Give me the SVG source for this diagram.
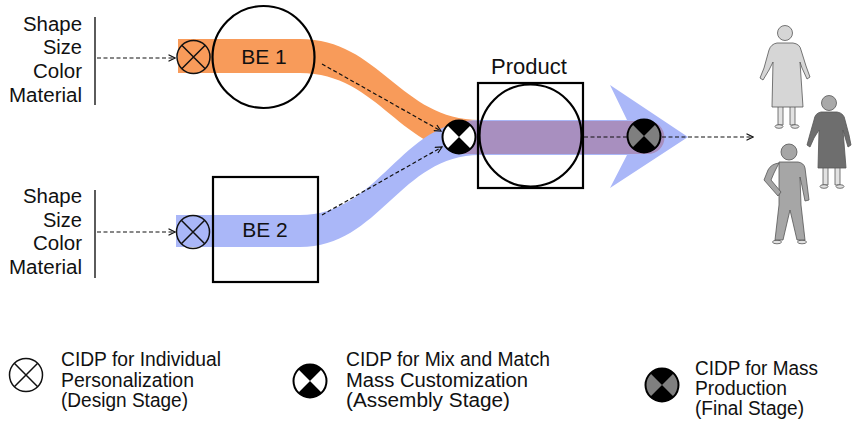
<svg xmlns="http://www.w3.org/2000/svg" width="853" height="424" viewBox="0 0 853 424">
  <style>
    .lbl { font-family: "Liberation Sans", Arial, sans-serif; fill: #111; }
    .attr { font-size: 20px; text-anchor: end; }
    .leg { font-size: 19.5px; }
    .name { font-size: 21px; text-anchor: middle; }
    .edge { stroke: #000; stroke-width: 2.2; fill: none; }
    .dash { stroke: #111; stroke-width: 1.2; stroke-dasharray: 4 2.5; fill: none; }
    .bar { stroke: #333; stroke-width: 1.6; }
    .person { stroke: #555; stroke-width: 0.8; stroke-linejoin: round; }
  </style>
  <defs>
    <marker id="open" viewBox="0 0 8 8" refX="7" refY="4" markerWidth="8" markerHeight="8" markerUnits="userSpaceOnUse" orient="auto">
      <path d="M0.5,0.8 L7,4 L0.5,7.2" fill="none" stroke="#111" stroke-width="1.2"/>
    </marker>
    <!-- design-stage decoupling point: open circle with X -->
    <g id="cidpDesign">
      <circle r="16.5" fill="none" stroke="#111" stroke-width="1.5"/>
      <path d="M-11.7,-11.7 L11.7,11.7 M11.7,-11.7 L-11.7,11.7" stroke="#111" stroke-width="1.5"/>
    </g>
    <!-- assembly-stage decoupling point -->
    <g id="cidpAssembly">
      <circle r="16.5" fill="#fff"/>
      <path d="M0,0 L-11.7,-11.7 A16.5,16.5 0 0 1 11.7,-11.7 Z M0,0 L-11.7,11.7 A16.5,16.5 0 0 0 11.7,11.7 Z" fill="#000"/>
      <circle r="16.5" fill="none" stroke="#000" stroke-width="2"/>
    </g>
    <!-- final-stage decoupling point -->
    <g id="cidpFinal">
      <circle r="16.5" fill="#7f7f7f"/>
      <path d="M0,0 L-11.7,-11.7 A16.5,16.5 0 0 1 11.7,-11.7 Z M0,0 L-11.7,11.7 A16.5,16.5 0 0 0 11.7,11.7 Z" fill="#000"/>
      <circle r="16.5" fill="none" stroke="#000" stroke-width="2"/>
    </g>
  </defs>

  <rect width="853" height="424" fill="#fff"/>

  <!-- material flows -->
  <g id="flows">
    <path id="flow-be1" d="M178,39 L300,39 C380,39 400,120 480,120 L583,120 L583,155 L480,155 C400,155 380,73 300,73 L178,73 Z" fill="#f89b5a"/>
    <path id="flow-be2" d="M176,215 L300,215 C380,215 400,120 480,120 L600,120 L627,120 L610,85 L688,137 L610,188 L627,155 L600,155 L480,155 C400,155 380,247 300,247 L176,247 Z" fill="#aab7f8"/>
    <path id="flow-merged" d="M462,121 L648,121 A16.5,16.5 0 0 1 648,154 L462,154 Z" fill="#a88fbf"/>
  </g>

  <!-- attribute lists -->
  <g id="attrs-be1">
    <text class="lbl attr" x="82" y="31" textLength="59" lengthAdjust="spacingAndGlyphs">Shape</text>
    <text class="lbl attr" x="82" y="54" textLength="39" lengthAdjust="spacingAndGlyphs">Size</text>
    <text class="lbl attr" x="82" y="78" textLength="49" lengthAdjust="spacingAndGlyphs">Color</text>
    <text class="lbl attr" x="82" y="102" textLength="73" lengthAdjust="spacingAndGlyphs">Material</text>
    <line class="bar" x1="95" y1="17" x2="95" y2="105"/>
  </g>
  <g id="attrs-be2">
    <text class="lbl attr" x="82" y="203" textLength="59" lengthAdjust="spacingAndGlyphs">Shape</text>
    <text class="lbl attr" x="82" y="227" textLength="39" lengthAdjust="spacingAndGlyphs">Size</text>
    <text class="lbl attr" x="82" y="250" textLength="49" lengthAdjust="spacingAndGlyphs">Color</text>
    <text class="lbl attr" x="82" y="274" textLength="73" lengthAdjust="spacingAndGlyphs">Material</text>
    <line class="bar" x1="95" y1="190" x2="95" y2="278"/>
  </g>

  <!-- connectors -->
  <g id="connectors">
    <line class="dash" x1="97" y1="58" x2="175" y2="58" marker-end="url(#open)"/>
    <line class="dash" x1="97" y1="232" x2="175" y2="232" marker-end="url(#open)"/>
    <line class="dash" x1="322" y1="64" x2="441" y2="131" marker-end="url(#open)"/>
    <line class="dash" x1="322" y1="215" x2="442" y2="147" marker-end="url(#open)"/>
    <line class="dash" x1="584" y1="137" x2="753" y2="137" marker-end="url(#open)"/>
  </g>

  <!-- building elements -->
  <g id="be1">
    <circle class="edge" cx="263.5" cy="57" r="51" stroke-width="2.5"/>
    <text class="lbl name" x="264" y="64">BE 1</text>
  </g>
  <g id="be2">
    <rect class="edge" x="213" y="177" width="105" height="105"/>
    <text class="lbl name" x="265" y="237">BE 2</text>
  </g>
  <g id="product">
    <rect class="edge" x="478" y="83" width="105" height="105"/>
    <circle class="edge" cx="530.5" cy="135.5" r="51" stroke-width="2.5"/>
    <text class="lbl name" x="529" y="74" style="font-size:22px">Product</text>
  </g>

  <!-- decoupling points on the flows -->
  <g id="cidp-be1"><use href="#cidpDesign" x="193.5" y="57"/></g>
  <g id="cidp-be2"><use href="#cidpDesign" x="193" y="232"/></g>
  <g id="cidp-assembly"><use href="#cidpAssembly" x="459" y="137"/></g>
  <g id="cidp-final"><use href="#cidpFinal" x="644" y="136"/></g>

  <!-- customers -->
  <g id="customers">
    <g id="woman-light">
      <rect class="person" x="778" y="106" width="5" height="19" fill="#e2e2e2"/>
      <rect class="person" x="790" y="106" width="5" height="19" fill="#e2e2e2"/>
      <ellipse class="person" cx="779" cy="126.5" rx="4" ry="1.8" fill="#e2e2e2"/>
      <ellipse class="person" cx="795" cy="126.5" rx="4" ry="1.8" fill="#e2e2e2"/>
      <path class="person" fill="#d6d6d6" d="M777,43 L793,43 Q800,44 801,50 L806,66 L810,77 L807,79 L802,68 L800,62 L803,107 L772,107 L773,62 L769,70 L763,80 L760,78 L764,68 L769,50 Q771,44 777,43 Z"/>
      <circle class="person" cx="785" cy="33" r="7.5" fill="#d6d6d6"/>
    </g>
    <g id="woman-dark">
      <rect class="person" x="823" y="167" width="5" height="18" fill="#e2e2e2"/>
      <rect class="person" x="835" y="167" width="5" height="18" fill="#e2e2e2"/>
      <ellipse class="person" cx="824" cy="186.5" rx="4" ry="1.8" fill="#e2e2e2"/>
      <ellipse class="person" cx="840" cy="186.5" rx="4" ry="1.8" fill="#e2e2e2"/>
      <path class="person" fill="#6e6e6e" d="M821,112 L837,112 Q844,113 845,120 L849,135 L851,145 L848,147 L845,137 L843,130 L846,168 L818,168 L819,130 L814,138 L810,147 L807,145 L810,134 L814,120 Q815,113 821,112 Z"/>
      <circle class="person" cx="829" cy="103" r="7.5" fill="#a9a9a9"/>
    </g>
    <g id="man">
      <ellipse class="person" cx="777" cy="242" rx="4.5" ry="1.8" fill="#e2e2e2"/>
      <ellipse class="person" cx="802" cy="242" rx="4.5" ry="1.8" fill="#e2e2e2"/>
      <path class="person" fill="#a6a6a6" d="M779,162 L798,162 Q804,163 805,168 L807,184 L809,200 L805,201 L802,186 L800,177 L801,205 L805,240 L797,240 L790,210 L783,240 L775,240 L779,205 L779,180 Z"/>
      <path class="person" fill="#a6a6a6" d="M779,163 Q771,164 768,170 L764,180 L778,196 L781,192 L771,180 L774,173 Z"/>
      <circle class="person" cx="789" cy="152" r="8" fill="#a6a6a6"/>
    </g>
  </g>

  <!-- legend -->
  <g id="legend-design">
    <circle cx="26" cy="375" r="16.5" fill="#fff"/>
    <use href="#cidpDesign" x="26" y="375"/>
    <text class="lbl leg" x="61" y="366" textLength="160" lengthAdjust="spacingAndGlyphs">CIDP for Individual</text>
    <text class="lbl leg" x="61" y="386.5" textLength="133" lengthAdjust="spacingAndGlyphs">Personalization</text>
    <text class="lbl leg" x="61" y="407" textLength="127" lengthAdjust="spacingAndGlyphs">(Design Stage)</text>
  </g>
  <g id="legend-assembly">
    <use href="#cidpAssembly" x="310" y="381"/>
    <text class="lbl leg" x="346" y="366" textLength="204" lengthAdjust="spacingAndGlyphs">CIDP for Mix and Match</text>
    <text class="lbl leg" x="346" y="386.5" textLength="182" lengthAdjust="spacingAndGlyphs">Mass Customization</text>
    <text class="lbl leg" x="346" y="407" textLength="164" lengthAdjust="spacingAndGlyphs">(Assembly Stage)</text>
  </g>
  <g id="legend-final">
    <use href="#cidpFinal" x="662" y="385"/>
    <text class="lbl leg" x="695" y="375" textLength="123" lengthAdjust="spacingAndGlyphs">CIDP for Mass</text>
    <text class="lbl leg" x="695" y="395" textLength="92" lengthAdjust="spacingAndGlyphs">Production</text>
    <text class="lbl leg" x="695" y="415" textLength="109" lengthAdjust="spacingAndGlyphs">(Final Stage)</text>
  </g>
</svg>
